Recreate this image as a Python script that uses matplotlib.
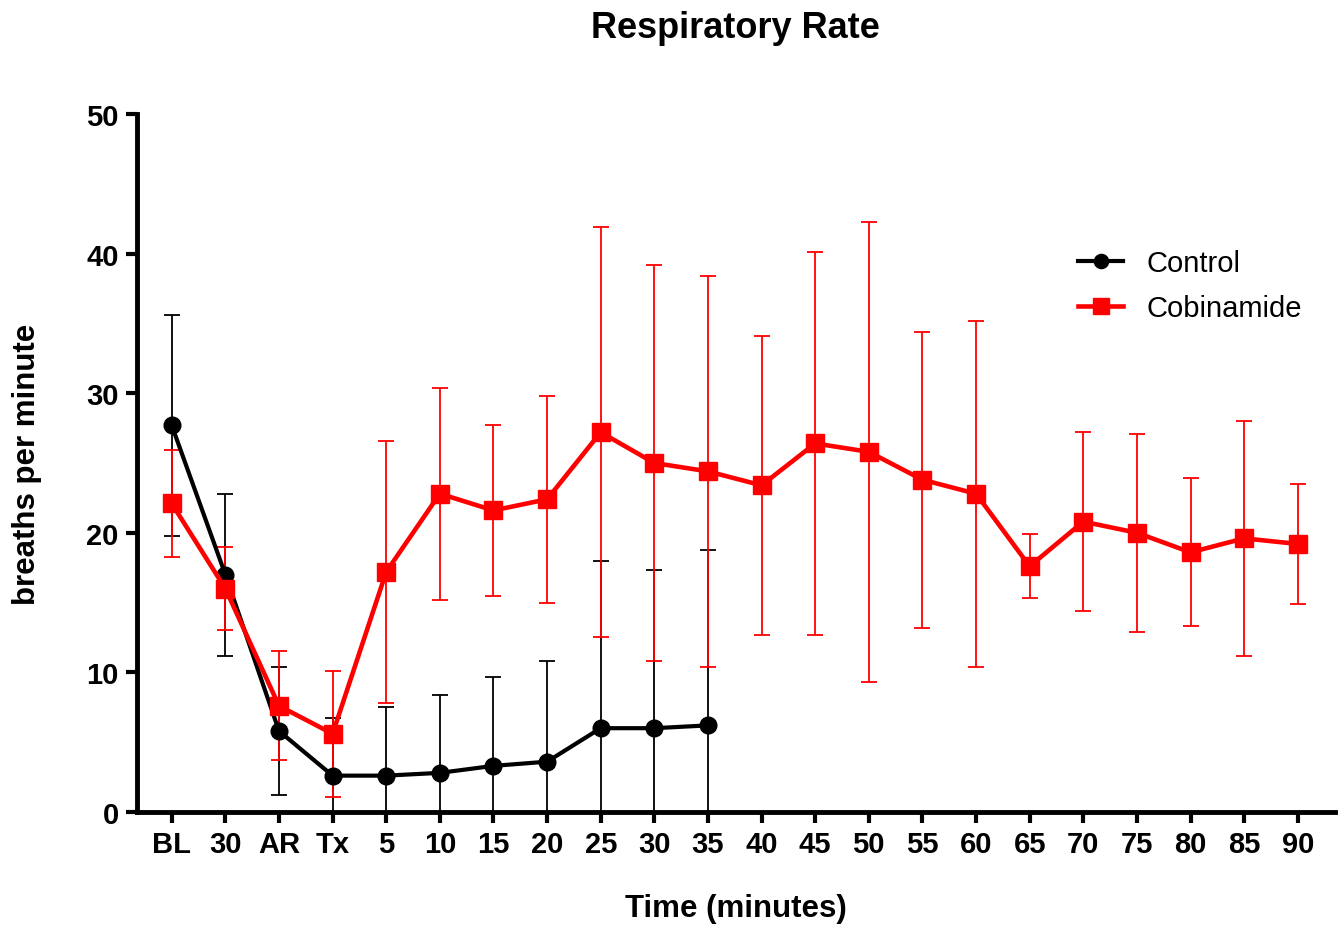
import numpy as np
import matplotlib
matplotlib.use('Agg')
import matplotlib.pyplot as plt

# category labels on the x axis
labels = ['BL', '30', 'AR', 'Tx', '5', '10', '15', '20', '25', '30', '35', '40',
          '45', '50', '55', '60', '65', '70', '75', '80', '85', '90']

# control group (only up to 35 min)
control_mean = [27.7, 17.0, 5.8, 2.6, 2.6, 2.8, 3.3, 3.6, 6.0, 6.0, 6.2]
control_sd = [7.9, 5.8, 4.6, 4.1, 4.9, 5.6, 6.4, 7.2, 12.0, 11.3, 12.6]

# cobinamide group
cobi_mean = [22.1, 16.0, 7.6, 5.6, 17.2, 22.8, 21.6, 22.4, 27.2, 25.0, 24.4, 23.4,
             26.4, 25.8, 23.8, 22.8, 17.6, 20.8, 20.0, 18.6, 19.6, 19.2]
cobi_sd = [3.8, 3.0, 3.9, 4.5, 9.4, 7.6, 6.1, 7.4, 14.7, 14.2, 14.0, 10.7,
           13.7, 16.5, 10.6, 12.4, 2.3, 6.4, 7.1, 5.3, 8.4, 4.3]

plt.rcParams['font.family'] = ['Liberation Sans', 'DejaVu Sans']

fig = plt.figure(figsize=(13.42, 9.28), dpi=100)
ax = fig.add_axes([0.102, 0.124, 0.893, 0.752])

x_all = np.arange(len(labels))
x_ctrl = x_all[:len(control_mean)]
red = '#ff0000'

# error bars
ax.errorbar(x_ctrl, control_mean, yerr=control_sd, fmt='none', ecolor='black',
            elinewidth=1.3, capsize=6, capthick=1.3, zorder=2)
ax.errorbar(x_all, cobi_mean, yerr=cobi_sd, fmt='none', ecolor=red,
            elinewidth=1.3, capsize=6, capthick=1.3, zorder=2)

# mean lines
ax.plot(x_ctrl, control_mean, color='black', lw=3, marker='o', markersize=12,
        label='Control', zorder=3)
ax.plot(x_all, cobi_mean, color=red, lw=3.3, marker='s', markersize=13,
        label='Cobinamide', zorder=4)

ax.set_xlim(-0.65, 21.7)
ax.set_ylim(0, 50)
ax.set_yticks([0, 10, 20, 30, 40, 50])
ax.set_xticks(x_all)
ax.set_xticklabels(labels)

for side in ['top', 'right']:
    ax.spines[side].set_visible(False)
for side in ['left', 'bottom']:
    ax.spines[side].set_linewidth(3.5)

ax.tick_params(axis='both', direction='out', length=8, width=3,
               labelsize=21, pad=5)
for lab in ax.get_xticklabels() + ax.get_yticklabels():
    lab.set_fontweight('bold')

ax.set_xlabel('Time (minutes)', fontsize=22.5, fontweight='bold', labelpad=25)
ax.set_ylabel('breaths per minute', fontsize=22.5, fontweight='bold', labelpad=32)
fig.suptitle('Respiratory Rate', fontsize=26, fontweight='bold', x=0.548, y=0.988)

leg = fig.legend(loc='upper left', bbox_to_anchor=(0.7925, 0.746), frameon=False,
                 fontsize=21, borderpad=0, handlelength=1.55, handletextpad=0.8,
                 labelspacing=0.58, markerscale=0.85)

fig.savefig('out.png', dpi=100)
